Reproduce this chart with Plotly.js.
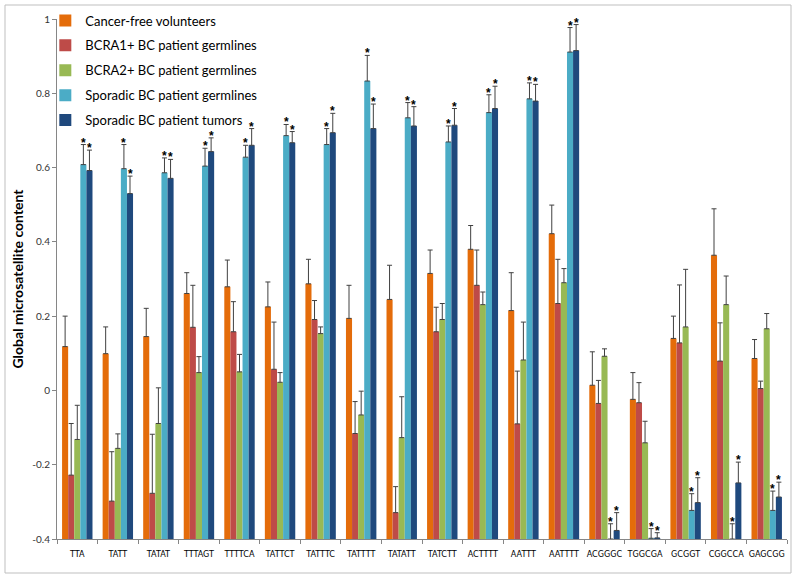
<!DOCTYPE html>
<html>
<head>
<meta charset="utf-8">
<script src="https://cdn.plot.ly/plotly-3.0.1.min.js"></script>
<style>html,body{margin:0;padding:0;background:#fff;}#chart{width:800px;height:584px;}</style>
</head>
<body>
<div id="chart"></div>
<script>
var categories = ['TTA','TATT','TATAT','TTTAGT','TTTTCA','TATTCT','TATTTC','TATTTT','TATATT','TATCTT','ACTTTT','AATTT','AATTTT','ACGGGC','TGGCGA','GCGGT','CGGCCA','GAGCGG'];

var seriesNames = ['Cancer-free volunteers','BCRA1+ BC patient germlines','BCRA2+ BC patient germlines','Sporadic BC patient germlines','Sporadic BC patient tumors'];

var cancerFree    = [0.118, 0.099, 0.145, 0.261, 0.279, 0.225, 0.287, 0.194, 0.245, 0.315, 0.380, 0.215, 0.422, 0.014, -0.024, 0.140, 0.364, 0.086];
var cancerFreeErr = [0.082, 0.072, 0.076, 0.056, 0.072, 0.067, 0.066, 0.089, 0.092, 0.063, 0.064, 0.102, 0.077, 0.090, 0.072, 0.060, 0.125, 0.051];

var brca1    = [-0.228, -0.298, -0.277, 0.170, 0.158, 0.057, 0.191, -0.116, -0.329, 0.158, 0.283, -0.090, 0.234, -0.035, -0.033, 0.128, 0.079, 0.005];
var brca1Err = [0.139, 0.133, 0.159, 0.113, 0.081, 0.127, 0.051, 0.086, 0.070, 0.066, 0.095, 0.142, 0.119, 0.062, 0.054, 0.156, 0.103, 0.020];

var brca2    = [-0.132, -0.156, -0.089, 0.048, 0.050, 0.022, 0.153, -0.066, -0.127, 0.191, 0.231, 0.082, 0.290, 0.092, -0.141, 0.171, 0.231, 0.166];
var brca2Err = [0.092, 0.039, 0.096, 0.043, 0.047, 0.026, 0.018, 0.064, 0.110, 0.043, 0.034, 0.102, 0.038, 0.020, 0.058, 0.155, 0.077, 0.041];

var sporadicGerm    = [0.608, 0.597, 0.586, 0.604, 0.628, 0.686, 0.662, 0.833, 0.734, 0.669, 0.748, 0.785, 0.911, -0.400, -0.398, -0.323, -0.400, -0.323];
var sporadicGermErr = [0.054, 0.065, 0.040, 0.048, 0.032, 0.030, 0.043, 0.069, 0.041, 0.043, 0.048, 0.043, 0.066, 0.041, 0.026, 0.045, 0.041, 0.052];

var sporadicTum    = [0.592, 0.530, 0.571, 0.643, 0.660, 0.667, 0.694, 0.705, 0.712, 0.714, 0.759, 0.779, 0.915, -0.377, -0.397, -0.302, -0.249, -0.287];
var sporadicTumErr = [0.055, 0.047, 0.051, 0.037, 0.045, 0.030, 0.052, 0.066, 0.052, 0.045, 0.060, 0.045, 0.070, 0.048, 0.014, 0.067, 0.056, 0.040];

var yTickVals = [-0.4, -0.2, 0, 0.2, 0.4, 0.6, 0.8, 1];
var yTickText = ['-0.4', '-0.2', '0', '0.2', '0.4', '0.6', '0.8', '1'];

var colors = ['#E46C0A', '#BE4B48', '#98B954', '#4BACC6', '#1F497D'];
var values = [cancerFree, brca1, brca2, sporadicGerm, sporadicTum];
var errs = [cancerFreeErr, brca1Err, brca2Err, sporadicGermErr, sporadicTumErr];
var AXIS_MIN = -0.4;
var BARGAP = 0.25;

var traces = values.map(function (vals, k) {
  return {
    type: 'bar',
    name: seriesNames[k],
    legendgroup: 'g' + k,
    x: categories,
    base: AXIS_MIN,
    y: vals.map(function (v) { return v - AXIS_MIN; }),
    marker: { color: colors[k], line: { width: 0 } },
    error_y: { type: 'data', symmetric: false, array: errs[k], arrayminus: errs[k].map(function(){return 0;}), color: '#404040', thickness: 1, width: 2.5 },
    hoverinfo: 'skip'
  };
});

var annotations = [];
var bw = (1 - BARGAP) / 5;
[3, 4].forEach(function (k) {
  var off = -(1 - BARGAP) / 2 + (k + 0.5) * bw;
  values[k].forEach(function (v, i) {
    annotations.push({
      xref: 'x', yref: 'y', x: i + off, y: v + errs[k][i],
      text: '<b>*</b>', showarrow: false, yanchor: 'bottom', xanchor: 'center',
      yshift: -7, font: { family: 'Liberation Sans, Arial, sans-serif', size: 12, color: '#000000' }
    });
  });
});

// paper area: x 57..787 (730 px), y 0..539 (539 px); plot occupies y 19..539
var PH = 539;
var layout = {
  width: 800, height: 584,
  margin: { l: 57, r: 13, t: 0, b: 45 },
  paper_bgcolor: '#fff', plot_bgcolor: '#fff',
  barmode: 'group', bargap: BARGAP, bargroupgap: 0,
  font: { family: 'Lato, "Open Sans", sans-serif', color: '#000' },
  xaxis: {
    type: 'category', showgrid: false, showline: true, linecolor: '#868686', linewidth: 1,
    ticks: 'outside', tickson: 'boundaries', ticklen: 4, tickcolor: '#868686',
    tickfont: { family: '"Liberation Sans Narrow", "DejaVu Sans Condensed", Lato, sans-serif', size: 9, color: '#000' },
    ticklabelstandoff: 6,
    tickangle: 0, fixedrange: true, automargin: false
  },
  yaxis: {
    domain: [0, (PH - 19) / PH],
    range: [-0.4, 1], tickvals: yTickVals, ticktext: yTickText,
    showgrid: false, zeroline: false, showline: true, linecolor: '#868686', linewidth: 1,
    ticks: 'outside', ticklen: 4, tickcolor: '#868686',
    tickfont: { family: 'Lato, sans-serif', size: 10, color: '#333' },
    title: { text: '<b>Global microsatellite content</b>', font: { family: 'Lato, "Open Sans", sans-serif', size: 14, color: '#000' }, standoff: 5 },
    automargin: false, fixedrange: true
  },
  showlegend: true,
  legend: {
    x: -0.016, y: (PH - 5.5) / PH, xanchor: 'left', yanchor: 'top',
    bgcolor: 'rgba(255,255,255,0)', traceorder: 'grouped', tracegroupgap: 5,
    font: { family: 'Lato, sans-serif', size: 13, color: '#000' },
    itemwidth: 30
  },
  annotations: annotations,
  shapes: [{
    type: 'rect', xref: 'paper', yref: 'paper',
    x0: (5 - 57) / 730, x1: (791 - 57) / 730,
    y0: (PH - 573) / PH, y1: (PH - 5) / PH,
    line: { color: '#bfbfbf', width: 1 }, fillcolor: 'rgba(0,0,0,0)', layer: 'below'
  }]
};

Plotly.newPlot('chart', traces, layout, { displayModeBar: false, staticPlot: true });
</script>
</body>
</html>
